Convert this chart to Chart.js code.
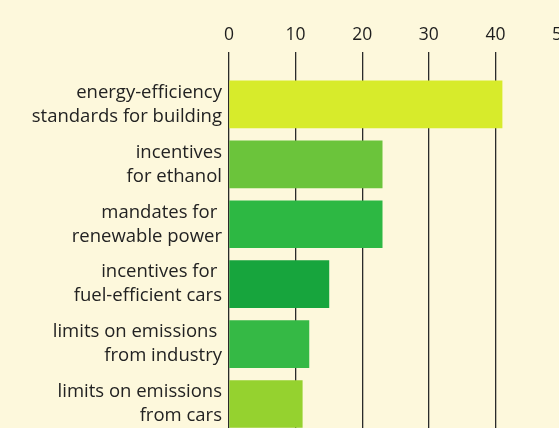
<!DOCTYPE html>
<html>
<head>
<meta charset="utf-8">
<script src="https://cdn.jsdelivr.net/npm/chart.js@4"></script>
<style>
  html, body { margin: 0; padding: 0; background: #fdf8dc; overflow: hidden; }
  #wrap { width: 559px; height: 428px; overflow: hidden; position: relative; }
  canvas { position: absolute; left: 0; top: 0; }
</style>
</head>
<body>
<div id="wrap"><canvas id="myChart" width="600" height="465"></canvas></div>
<script>
// categories (multi-line labels)
const policies = [
    ['energy-efficiency', 'standards for building'],
    ['incentives', 'for ethanol'],
    ['mandates for ', 'renewable power'],
    ['incentives for ', 'fuel-efficient cars'],
    ['limits on emissions ', 'from industry'],
    ['limits on emissions', 'from cars']
];
const values = [41, 23, 23, 15, 12, 11];
const barColors = ['#d7eb2b', '#6bc43b', '#2db843', '#17a53d', '#35b945', '#95d22f'];
const xTicks = [0, 10, 20, 30, 40, 50];

const ctx = document.getElementById('myChart').getContext('2d');

const myChart = new Chart(ctx, {
    type: 'bar',
    data: {
        labels: policies,
        datasets: [{
            data: values,
            backgroundColor: barColors,
            borderWidth: 0,
            barThickness: 47
        }]
    },
    options: {
        indexAxis: 'y',
        responsive: false,
        animation: false,
        layout: { padding: { left: 0, top: 0, right: 38, bottom: 15.5 } },
        plugins: { legend: { display: false }, tooltip: { enabled: false } },
        scales: {
            x: {
                position: 'top',
                min: 0,
                max: 50,
                afterBuildTicks: (scale) => { scale.ticks = xTicks.map(v => ({ value: v })); },
                afterFit: (scale) => { scale.height = 74.5; },
                grid: { color: '#2a2a2a', lineWidth: 1.3, tickLength: 22.5, drawTicks: true },
                border: { display: false },
                ticks: { color: '#1e1e1e', padding: 6, font: { family: 'Open Sans', size: 17.5 } }
            },
            y: {
                afterFit: (scale) => { scale.width = 229; },
                grid: { display: false, drawTicks: false },
                border: { display: false },
                ticks: { color: '#222', padding: 7, font: { family: 'Open Sans', size: 18.5, lineHeight: 1.3 } }
            }
        }
    }
});
</script>
</body>
</html>
